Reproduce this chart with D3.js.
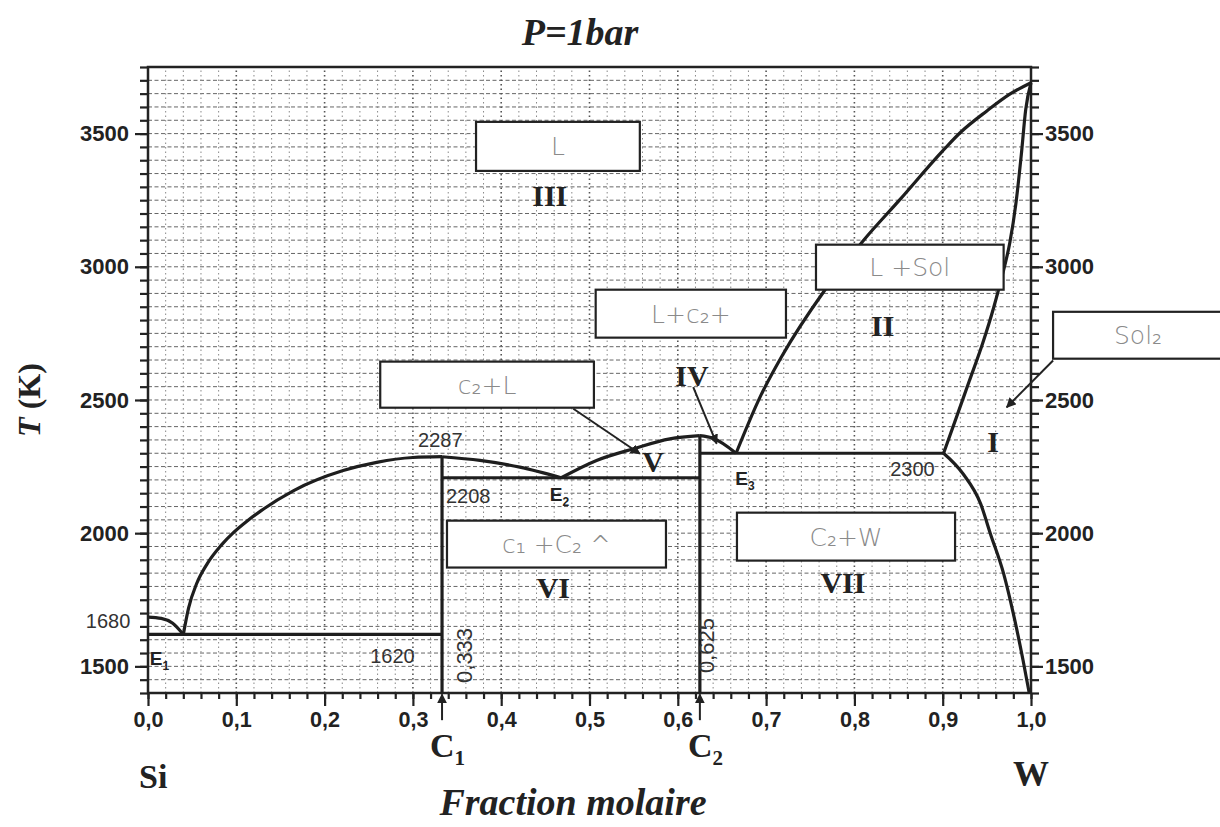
<!DOCTYPE html>
<html>
<head>
<meta charset="utf-8">
<script src="https://cdn.jsdelivr.net/npm/d3@7"></script>
<style>
  body { margin: 0; background: #fff; }
  svg { display: block; }
  .hand { font-family: "DejaVu Sans", sans-serif; font-weight: 300; fill: #8a8a8a; }
  .num { font-family: "Liberation Sans", Arial, sans-serif; fill: #333; }
  .roman { font-family: "Liberation Serif", "Times New Roman", serif; font-weight: bold; fill: #222; }
</style>
</head>
<body>
<div id="chart"></div>
<script>
// ---- data (x = fraction molaire W, T in K) ----
var xTicks = [0, 0.1, 0.2, 0.3, 0.4, 0.5, 0.6, 0.7, 0.8, 0.9, 1.0];
var xTickLabels = ["0,0", "0,1", "0,2", "0,3", "0,4", "0,5", "0,6", "0,7", "0,8", "0,9", "1,0"];
var tTicks = [1500, 2000, 2500, 3000, 3500];

var siMelt   = [[0, 1685], [0.015, 1680], [0.028, 1662], [0.04, 1620]];
var liqSi    = [[0.04, 1620], [0.046, 1720], [0.055, 1810], [0.067, 1885], [0.083, 1955], [0.097, 2003],
                [0.112, 2045], [0.127, 2082], [0.165, 2160], [0.221, 2235], [0.259, 2266], [0.3, 2284],
                [0.333, 2287]];
var liqC1E2  = [[0.333, 2287], [0.376, 2273], [0.421, 2248], [0.468, 2208]];
var liqE2C2  = [[0.468, 2208], [0.508, 2273], [0.55, 2317], [0.591, 2354], [0.625, 2366]];
var liqC2E3  = [[0.625, 2366], [0.64, 2356], [0.666, 2300]];
var liqW     = [[0.666, 2300], [0.693, 2510], [0.718, 2665], [0.766, 2910], [0.81, 3098], [0.852, 3254],
                [0.9, 3435], [0.92, 3504], [0.95, 3585], [0.976, 3648], [1.0, 3691]];
var solW     = [[0.901, 2300], [0.915, 2430], [0.93, 2570], [0.945, 2710], [0.958, 2850], [0.968, 2975],
                [0.976, 3090], [0.983, 3240], [0.989, 3420], [0.994, 3590], [1.0, 3691]];
var solvusW  = [[0.901, 2300], [0.923, 2223], [0.943, 2110], [0.954, 1998], [0.969, 1848], [0.98, 1698],
                [0.991, 1523], [0.998, 1400]];
var isotherms = [[0, 0.333, 1620], [0.333, 0.625, 2208], [0.625, 0.901, 2300]];
var compounds = [[0.333, 2287], [0.625, 2366]];

// handwritten boxes: [x0, x1, T0, T1, text]
var boxes = [
  [0.3715, 0.557, 3360, 3544, "L"],
  [0.507, 0.7225, 2734, 2914, "L+c₂+"],
  [0.263, 0.505, 2471, 2644, "c₂+L"],
  [0.7565, 0.969, 2914, 3083, "L +Sol"],
  [1.025, 1.25, 2655, 2831, "Sol₂"],
  [0.3386, 0.5866, 1871, 2047, "c₁ +C₂ ^"],
  [0.667, 0.914, 1897, 2077, "C₂+W"]
];
var romans = [["III", 0.455, 3228], ["IV", 0.616, 2553], ["V", 0.572, 2228], ["VI", 0.459, 1758],
              ["VII", 0.787, 1777], ["II", 0.832, 2741], ["I", 0.957, 2303]];
var arrows = [[0.6175, 2548, 0.644, 2336], [0.4817, 2467, 0.557, 2298], [1.025, 2648, 0.9725, 2473],
              [0.333, 1298, 0.333, 1395], [0.625, 1298, 0.625, 1395]];

var W = 1220, H = 827;
var x = d3.scaleLinear().domain([0, 1]).range([148, 1031]);
var y = d3.scaleLinear().domain([1400, 3750]).range([693, 67]);

var svg = d3.select("#chart").append("svg").attr("width", W).attr("height", H);

svg.append("defs").append("marker")
    .attr("id", "ah").attr("viewBox", "0 0 10 10").attr("refX", 9).attr("refY", 5)
    .attr("markerWidth", 5).attr("markerHeight", 5).attr("orient", "auto-start-reverse")
  .append("path").attr("d", "M0,0L10,5L0,10z").attr("fill", "#222");

// grid
var grid = svg.append("g");
d3.range(1400, 3751, 50).forEach(function(t) {
  grid.append("line").attr("x1", x(0)).attr("x2", x(1)).attr("y1", y(t)).attr("y2", y(t))
      .attr("stroke", "#666").attr("stroke-width", 1).attr("stroke-dasharray", "4,2.5");
});
d3.range(0, 50).forEach(function(i) {
  var v = i * 0.02;
  grid.append("line").attr("x1", x(v)).attr("x2", x(v)).attr("y1", y(1400)).attr("y2", y(3750))
      .attr("stroke", i % 5 == 0 ? "#555" : "#888")
      .attr("stroke-width", i % 5 == 0 ? 1.6 : 1)
      .attr("stroke-dasharray", "1.5,3");
});

// axes
var tMinor = d3.range(1400, 3751, 50);
var xMinor = d3.range(0, 51).map(function(i) { return i * 0.02; });
var fmtX = function(d) { return xTickLabels[xTicks.indexOf(d)]; };
var fmtT = d3.format("d");

svg.append("g").attr("transform", "translate(" + x(0) + ",0)")
    .call(d3.axisLeft(y).tickValues(tMinor).tickSize(8).tickFormat(""));
svg.append("g").attr("class", "ly").attr("transform", "translate(" + x(0) + ",0)")
    .call(d3.axisLeft(y).tickValues(tTicks).tickSize(13).tickPadding(6).tickFormat(fmtT));
svg.append("g").attr("transform", "translate(" + x(1) + ",0)")
    .call(d3.axisRight(y).tickValues(tMinor).tickSize(8).tickFormat(""));
svg.append("g").attr("class", "ry").attr("transform", "translate(" + x(1) + ",0)")
    .call(d3.axisRight(y).tickValues(tTicks).tickSize(12).tickPadding(2).tickFormat(fmtT));
svg.append("g").attr("transform", "translate(0," + y(1400) + ")")
    .call(d3.axisBottom(x).tickValues(xMinor).tickSize(6).tickFormat(""));
svg.append("g").attr("class", "bx").attr("transform", "translate(0," + y(1400) + ")")
    .call(d3.axisBottom(x).tickValues(xTicks).tickSize(13).tickPadding(5).tickFormat(fmtX));

svg.selectAll(".domain").remove();
svg.selectAll(".tick line").attr("stroke", "#222").attr("stroke-width", 2.2);
svg.selectAll(".ly text, .ry text")
    .attr("font-family", "Liberation Sans, Arial, sans-serif").attr("font-weight", "bold")
    .attr("font-size", 22).attr("fill", "#222");
svg.selectAll(".bx text")
    .attr("font-family", "Liberation Sans Narrow, Liberation Sans, Arial, sans-serif").attr("font-weight", "bold")
    .attr("font-size", 22).attr("fill", "#222")
    .attr("textLength", 30).attr("lengthAdjust", "spacingAndGlyphs");

// frame
svg.append("rect").attr("x", x(0)).attr("y", y(3750)).attr("width", x(1) - x(0)).attr("height", y(1400) - y(3750))
    .attr("fill", "none").attr("stroke", "#222").attr("stroke-width", 2.5);

// phase boundaries
var line = d3.line().x(function(d) { return x(d[0]); }).y(function(d) { return y(d[1]); })
    .curve(d3.curveMonotoneX);
var phase = svg.append("g").attr("fill", "none").attr("stroke", "#1e1e1e").attr("stroke-width", 3.2)
    .attr("stroke-linejoin", "round");
[siMelt, liqSi, liqC1E2, liqE2C2, liqC2E3, liqW, solW, solvusW].forEach(function(s) {
  phase.append("path").attr("d", line(s));
});
isotherms.forEach(function(d) {
  phase.append("line").attr("x1", x(d[0])).attr("x2", x(d[1])).attr("y1", y(d[2])).attr("y2", y(d[2]));
});
compounds.forEach(function(d) {
  phase.append("line").attr("x1", x(d[0])).attr("x2", x(d[0])).attr("y1", y(1400)).attr("y2", y(d[1]));
});

// boxes
boxes.forEach(function(b) {
  svg.append("rect").attr("x", x(b[0])).attr("y", y(b[3])).attr("width", x(b[1]) - x(b[0]))
      .attr("height", y(b[2]) - y(b[3])).attr("fill", "#fff").attr("stroke", "#222").attr("stroke-width", 2.2);
  var cx = b[0] > 1 ? x(b[0]) + 85 : (x(b[0]) + x(b[1])) / 2;
  svg.append("text").attr("class", "hand").attr("x", cx).attr("y", (y(b[2]) + y(b[3])) / 2 + 9)
      .attr("text-anchor", "middle").attr("font-size", 25).text(b[4]);
});

// arrows
arrows.forEach(function(a) {
  svg.append("line").attr("x1", x(a[0])).attr("y1", y(a[1])).attr("x2", x(a[2])).attr("y2", y(a[3]))
      .attr("stroke", "#222").attr("stroke-width", 2).attr("marker-end", "url(#ah)");
});

// roman numerals
romans.forEach(function(r) {
  svg.append("text").attr("class", "roman").attr("x", x(r[1])).attr("y", y(r[2]))
      .attr("text-anchor", "middle").attr("font-size", 30).text(r[0]);
});

// numeric labels
function num(txt, xv, tv, anchor, size) {
  return svg.append("text").attr("class", "num").attr("x", x(xv)).attr("y", y(tv))
      .attr("text-anchor", anchor).attr("font-size", size || 20).text(txt);
}
num("2287", 0.331, 2325, "middle");
num("2208", 0.3375, 2115, "start");
num("2300", 0.891, 2213, "end");
num("1620", 0.302, 1512, "end");
num("1680", -0.02, 1643, "end");

function eut(sub, xv, tv) {
  var t = svg.append("text").attr("x", x(xv)).attr("y", y(tv))
      .attr("font-family", "Liberation Sans, Arial, sans-serif").attr("font-weight", "bold")
      .attr("font-size", 19).attr("fill", "#222").text("E");
  t.append("tspan").attr("font-size", 12).attr("dy", 5).text(sub);
}
eut("1", 0.002, 1504);
eut("2", 0.455, 2120);
eut("3", 0.665, 2179);

[["0,333", 0.358, 1541], ["0,625", 0.632, 1578]].forEach(function(d) {
  svg.append("text").attr("class", "num").attr("font-size", 22)
      .attr("transform", "translate(" + (x(d[1]) + 8) + "," + y(d[2]) + ") rotate(-90)")
      .attr("text-anchor", "middle").text(d[0]);
});

// compound and element labels under the axis
[["1", 0.333], ["2", 0.625]].forEach(function(d) {
  var t = svg.append("text").attr("x", x(d[1]) - 12).attr("y", 757)
      .attr("font-family", "Liberation Serif, Times New Roman, serif").attr("font-weight", "bold")
      .attr("font-size", 34).attr("fill", "#222").text("C");
  t.append("tspan").attr("font-size", 21).attr("dy", 8).text(d[0]);
});
svg.append("text").attr("x", x(0.006)).attr("y", 788).attr("text-anchor", "middle")
    .attr("font-family", "Liberation Serif, serif").attr("font-weight", "bold").attr("font-size", 34)
    .attr("fill", "#222").text("Si");
svg.append("text").attr("x", x(1.0)).attr("y", 786).attr("text-anchor", "middle")
    .attr("font-family", "Liberation Serif, serif").attr("font-weight", "bold").attr("font-size", 36)
    .attr("fill", "#222").text("W");

// titles
svg.append("text").attr("x", 580).attr("y", 45).attr("text-anchor", "middle")
    .attr("font-family", "Liberation Serif, serif").attr("font-weight", "bold").attr("font-style", "italic")
    .attr("font-size", 38).attr("fill", "#222").text("P=1bar");
svg.append("text").attr("x", 573).attr("y", 815).attr("text-anchor", "middle")
    .attr("font-family", "Liberation Serif, serif").attr("font-weight", "bold").attr("font-style", "italic")
    .attr("font-size", 38).attr("fill", "#222").text("Fraction molaire");
var ty = svg.append("text").attr("transform", "translate(40,400) rotate(-90)").attr("text-anchor", "middle")
    .attr("font-family", "Liberation Serif, serif").attr("font-weight", "bold")
    .attr("font-size", 32).attr("fill", "#222");
ty.append("tspan").attr("font-style", "italic").text("T");
ty.append("tspan").text(" (K)");
</script>
</body>
</html>
